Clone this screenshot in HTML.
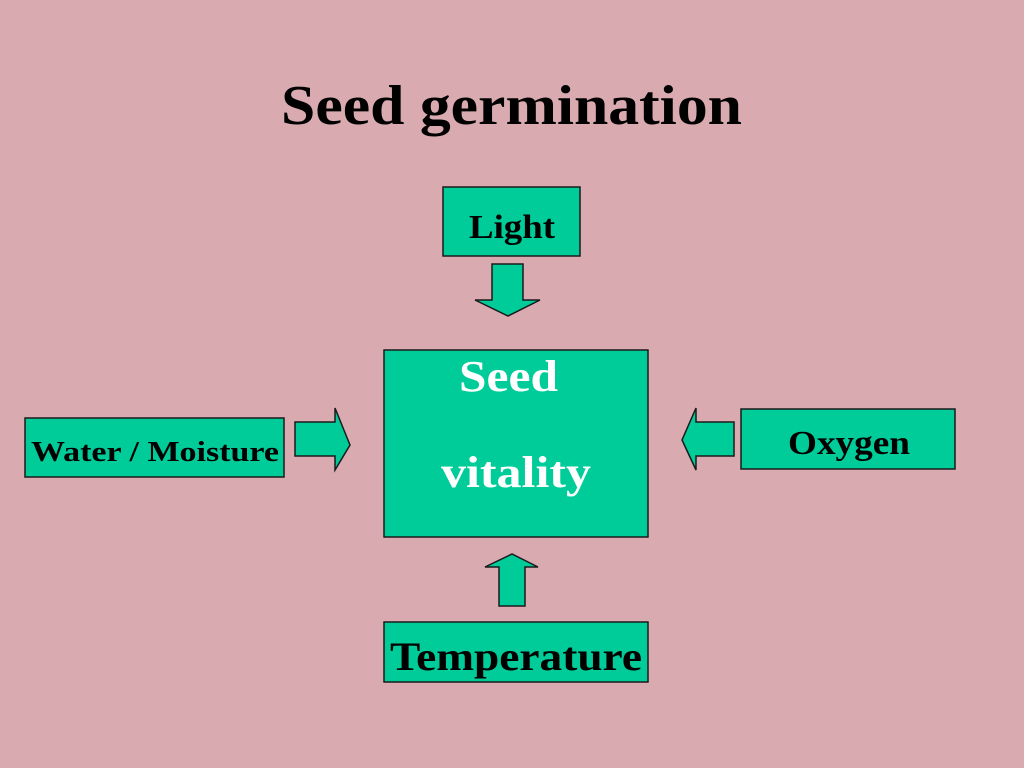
<!DOCTYPE html>
<html><head><style>
html,body{margin:0;padding:0;}
body{width:1024px;height:768px;background:#d9abb0;overflow:hidden;}
svg{display:block;}
text{font-family:"Liberation Serif",serif;font-weight:bold;}
</style></head><body>
<svg width="1024" height="768" viewBox="0 0 1024 768">
<rect width="1024" height="768" fill="#d9abb0"/>
<text x="281" y="124" font-size="56" textLength="461" lengthAdjust="spacingAndGlyphs" fill="#000">Seed germination</text>
<g fill="#00cc99" stroke="#1a1a1a" stroke-width="1.5">
<rect x="443" y="187" width="137" height="69"/>
<rect x="384" y="350" width="264" height="187"/>
<rect x="25" y="418" width="259" height="59"/>
<rect x="741" y="409" width="214" height="60"/>
<rect x="384" y="622" width="264" height="60"/>
<polygon points="492,264 523,264 523,300 540,300 508,316 475,300 492,300"/>
<polygon points="295,422 335,422 335,408 350,445 335,470 335,456 295,456"/>
<polygon points="734,422 696,422 696,408 682,440 696,470 696,456 734,456"/>
<polygon points="499,606 525,606 525,567 538,567 512,554 485,567 499,567"/>
</g>
<text x="469" y="238" font-size="34" textLength="86" lengthAdjust="spacingAndGlyphs" fill="#000">Light</text>
<text x="459" y="391" font-size="44" textLength="99" lengthAdjust="spacingAndGlyphs" fill="#fff">Seed</text>
<text x="441" y="487" font-size="44" textLength="150" lengthAdjust="spacingAndGlyphs" fill="#fff">vitality</text>
<text x="31" y="461" font-size="29" textLength="248" lengthAdjust="spacingAndGlyphs" fill="#000">Water / Moisture</text>
<text x="788" y="454" font-size="34" textLength="122" lengthAdjust="spacingAndGlyphs" fill="#000">Oxygen</text>
<text x="390" y="670" font-size="40" textLength="252" lengthAdjust="spacingAndGlyphs" fill="#000">Temperature</text>
</svg>
</body></html>
